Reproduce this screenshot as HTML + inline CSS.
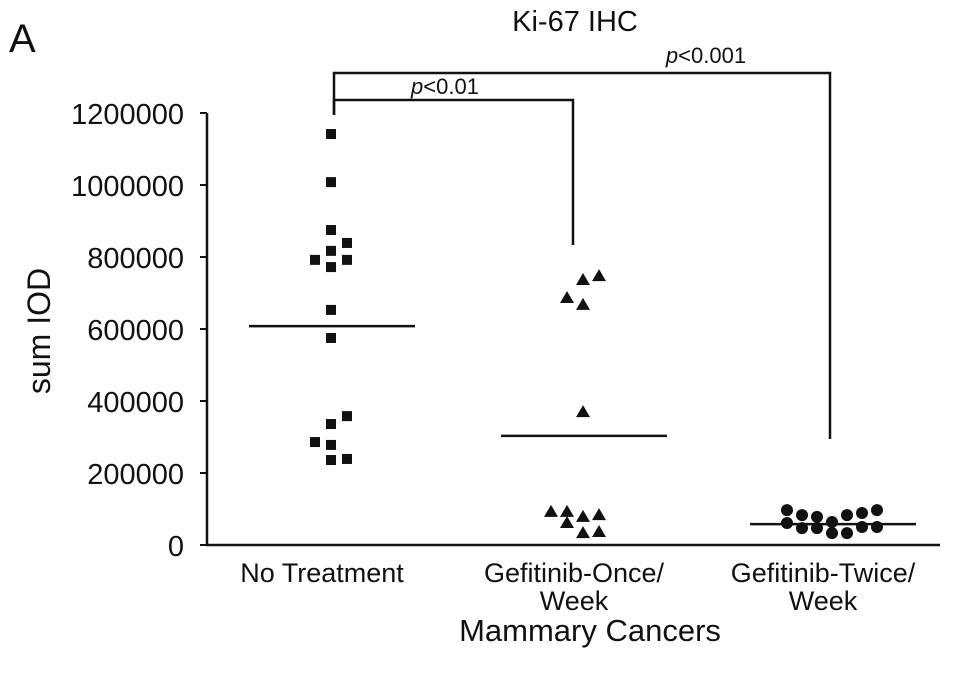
<!DOCTYPE html>
<html><head><meta charset="utf-8"><style>
body{margin:0;background:#fff}
svg text{font-family:"Liberation Sans",Arial,sans-serif;fill:#111}
</style></head><body>
<svg id="chart" width="969" height="668" viewBox="0 0 969 668">
<text x="9" y="52" font-size="40">A</text>
<text x="575" y="31" font-size="29" text-anchor="middle">Ki-67 IHC</text>
<text x="50" y="331" font-size="32" text-anchor="middle" transform="rotate(-90 50 331)">sum IOD</text>
<text x="590" y="641" font-size="31" text-anchor="middle">Mammary Cancers</text>
<g id="axes"></g><g id="marks"></g>
</svg>
<script>
const categories=["No Treatment","Gefitinib-Once/|Week","Gefitinib-Twice/|Week"];
const yTicks=[0,200000,400000,600000,800000,1000000,1200000];
const noTreatment=[1141667,1008000,875000,839000,817000,792000,792000,772000,653000,575000,358000,336000,286000,278000,236000,239000];
const onceWeek=[369000,92000,92000,61000,78000,33000,83000,36000,686000,667000,736000,747000];
const twiceWeek=[97000,61000,83000,47000,78000,47000,64000,33000,83000,33000,89000,50000,97000,50000];
const means=[608000,303000,58000];
const pLabels=["p<0.01","p<0.001"];
const jitter=[[0,0,0,1,0,-1,1,0,0,0,1,0,-1,0,0,1],[0,-2,-1,-1,0,0,1,1,-1,0,0,1],[-3,-3,-2,-2,-1,-1,0,0,1,1,2,2,3,3]];
const X0=207,Y0=545,XR=940;
const yS=v=>Y0-v*(432/1200000);
const xS=i=>[331,583,832][i];
const NS="http://www.w3.org/2000/svg";
function mk(t,a,p){const e=document.createElementNS(NS,t);for(const k in a)e.setAttribute(k,a[k]);p.appendChild(e);return e;}
const ax=document.getElementById('axes'),mk2=document.getElementById('marks');
let l=mk('line',{x1:X0,y1:yS(1200000),x2:X0,y2:Y0+1,stroke:'#111','stroke-width':2.5},ax);


l=mk('line',{x1:X0-1,y1:Y0,x2:XR,y2:Y0,stroke:'#111','stroke-width':2.5},ax);


yTicks.forEach(v=>{
 const t=mk('line',{x1:X0-7,y1:yS(v),x2:X0,y2:yS(v),stroke:'#111','stroke-width':2},ax);
 
 
 const tx=mk('text',{x:X0-23,y:yS(v)+11,'font-size':29,'text-anchor':'end'},ax);tx.textContent=v;
 
 
});
categories.forEach((c,i)=>{
 c.split('|').forEach((s,j)=>{
  const tx=mk('text',{x:xS(i)-9,y:582+j*28,'font-size':27,'text-anchor':'middle'},ax);tx.textContent=s;
  
  
 });
});
const series=[noTreatment,onceWeek,twiceWeek];
series.forEach((arr,i)=>{
 arr.forEach((v,k)=>{
  const cx=xS(i)+jitter[i][k]*(i==2?15:16),cy=yS(v);let e;
  if(i==0)e=mk('rect',{x:cx-5,y:cy-5,width:10,height:10,fill:'#111'},mk2);
  else if(i==1)e=mk('polygon',{points:`${cx},${cy-7} ${cx+7},${cy+5} ${cx-7},${cy+5}`,fill:'#111'},mk2);
  else e=mk('circle',{cx:cx,cy:cy,r:6,fill:'#111'},mk2);
  
  
 });
 const m=mk('line',{x1:xS(i)-82,y1:yS(means[i]),x2:xS(i)+84,y2:yS(means[i]),stroke:'#111','stroke-width':2.5},mk2);
 
 
});
let b=mk('polyline',{points:`334,115 334,100 573,100 573,245`,fill:'none',stroke:'#111','stroke-width':2.5},ax);


b=mk('polyline',{points:`334,115 334,73 830,73 830,439`,fill:'none',stroke:'#111','stroke-width':2.5},ax);


[[445,94],[706,63]].forEach((p,i)=>{
 const t=mk('text',{x:p[0],y:p[1],'font-size':22,'text-anchor':'middle'},ax);
 t.innerHTML='<tspan font-style="italic">p</tspan>'+pLabels[i].slice(1).replace('<','&lt;');
 
 
});
</script>
</body></html>
